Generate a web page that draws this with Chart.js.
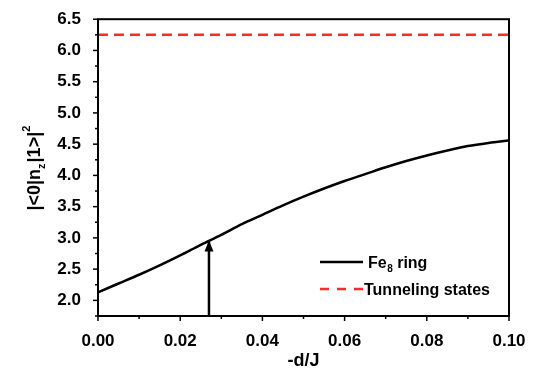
<!DOCTYPE html>
<html>
<head>
<meta charset="utf-8">
<script src="https://cdn.jsdelivr.net/npm/chart.js@4"></script>
<style>
  html, body { margin: 0; padding: 0; background: #fff; }
  #wrap { width: 544px; height: 372px; }
</style>
</head>
<body>
<div id="wrap"><canvas id="chart"></canvas></div>
<script>
// -d/J values and the matrix element for the Fe8 ring
const dJ = [0, 0.005, 0.01, 0.015, 0.02, 0.025, 0.03, 0.035, 0.04, 0.045, 0.05,
            0.055, 0.06, 0.065, 0.07, 0.075, 0.08, 0.085, 0.09, 0.095, 0.1];
const fe8Ring = [2.13, 2.27, 2.41, 2.56, 2.72, 2.89, 3.05, 3.22, 3.37, 3.52, 3.66,
                 3.79, 3.91, 4.02, 4.13, 4.23, 4.32, 4.40, 4.47, 4.52, 4.56];
// constant level of the tunneling states
const tunnelingLevel = 6.25;
// arrow from the axis up to the curve
const arrowAt = 0.027;
const arrowTop = 2.96;

const yMin = 1.75, yMax = 6.5;
const xMin = 0, xMax = 0.1;

const FONT = "'Liberation Sans', Arial, sans-serif";

// frame, outward ticks, arrow head, legend and y title
const decorations = {
  id: 'decorations',
  afterDatasetsDraw(chart) {
    const ctx = chart.ctx;
    const a = chart.chartArea;
    const xs = chart.scales.x, ys = chart.scales.y;
    ctx.save();

    // arrow head
    const meta = chart.getDatasetMeta(2);
    const tip = meta.data[1];
    ctx.fillStyle = '#000';
    ctx.beginPath();
    ctx.moveTo(tip.x, tip.y);
    ctx.lineTo(tip.x - 4.5, tip.y + 11);
    ctx.lineTo(tip.x + 4.5, tip.y + 11);
    ctx.closePath();
    ctx.fill();

    // frame
    ctx.strokeStyle = '#000';
    ctx.lineWidth = 2;
    ctx.strokeRect(a.left, a.top, a.right - a.left, a.bottom - a.top);

    // ticks
    ctx.lineWidth = 1.5;
    ys.ticks.forEach(t => {
      const y = ys.getPixelForValue(t.value);
      const major = Math.abs(t.value * 2 - Math.round(t.value * 2)) < 1e-6;
      ctx.beginPath();
      ctx.moveTo(a.left, y);
      ctx.lineTo(a.left - (major ? 5 : 3), y);
      ctx.stroke();
    });
    xs.ticks.forEach(t => {
      const x = xs.getPixelForValue(t.value);
      const major = Math.abs(t.value * 50 - Math.round(t.value * 50)) < 1e-6;
      ctx.beginPath();
      ctx.moveTo(x, a.bottom);
      ctx.lineTo(x, a.bottom + (major ? 5 : 3));
      ctx.stroke();
    });

    // legend
    const lx = 320, ly1 = 262, ly2 = 289;
    ctx.lineWidth = 2.5;
    ctx.beginPath();
    ctx.moveTo(lx, ly1);
    ctx.lineTo(lx + 43, ly1);
    ctx.stroke();
    ctx.strokeStyle = '#ff2a2a';
    ctx.setLineDash([9, 8]);
    ctx.beginPath();
    ctx.moveTo(lx, ly2);
    ctx.lineTo(lx + 43, ly2);
    ctx.stroke();
    ctx.setLineDash([]);

    ctx.fillStyle = '#000';
    ctx.textBaseline = 'alphabetic';
    ctx.textAlign = 'left';
    ctx.font = 'bold 16px ' + FONT;
    let tx = lx + 48;
    ctx.fillText('Fe', tx, ly1 + 6);
    tx += ctx.measureText('Fe').width;
    ctx.font = 'bold 10px ' + FONT;
    ctx.fillText('8', tx + 0.5, ly1 + 10);
    tx += ctx.measureText('8').width + 0.5;
    ctx.font = 'bold 16px ' + FONT;
    ctx.fillText(' ring', tx, ly1 + 6);
    ctx.fillText('Tunneling states', lx + 44, ly2 + 6);

    // y axis title with subscript and superscript
    ctx.translate(33, (a.top + a.bottom) / 2);
    ctx.rotate(-Math.PI / 2);
    const parts = [
      { s: '|<0|n', size: 18, dy: 0 },
      { s: 'z', size: 11, dy: 5 },
      { s: '|1>|', size: 18, dy: 0 },
      { s: '2', size: 11, dy: -10 }
    ];
    let total = 0;
    parts.forEach(p => {
      ctx.font = 'bold ' + p.size + 'px ' + FONT;
      p.w = ctx.measureText(p.s).width + (p.size < 18 ? 1 : 0);
      total += p.w;
    });
    let px = -total / 2;
    parts.forEach(p => {
      ctx.font = 'bold ' + p.size + 'px ' + FONT;
      ctx.fillText(p.s, px, 7 + p.dy);
      px += p.w;
    });

    ctx.restore();
  }
};

new Chart(document.getElementById('chart'), {
  type: 'line',
  data: {
    datasets: [
      {
        label: 'Fe8 ring',
        data: dJ.map((x, i) => ({ x: x, y: fe8Ring[i] })),
        borderColor: '#000',
        borderWidth: 2.5,
        pointRadius: 0,
        cubicInterpolationMode: 'monotone',
        order: 1
      },
      {
        label: 'Tunneling states',
        data: [{ x: xMin, y: tunnelingLevel }, { x: xMax, y: tunnelingLevel }],
        borderColor: '#ff2a2a',
        borderWidth: 2.5,
        borderDash: [10, 6],
        pointRadius: 0,
        order: 2
      },
      {
        label: 'arrow',
        data: [{ x: arrowAt, y: yMin }, { x: arrowAt, y: arrowTop }],
        borderColor: '#000',
        borderWidth: 2.5,
        pointRadius: 0,
        order: 3
      }
    ]
  },
  options: {
    responsive: true,
    maintainAspectRatio: false,
    animation: false,
    layout: { padding: { top: 12, right: 35, left: 0, bottom: 0 } },
    plugins: {
      legend: { display: false },
      tooltip: { enabled: false }
    },
    scales: {
      x: {
        type: 'linear',
        min: xMin,
        max: xMax,
        grid: { display: false },
        border: { display: false },
        ticks: {
          stepSize: 0.01,
          autoSkip: false,
          maxRotation: 0,
          padding: 7,
          color: '#000',
          font: { family: FONT, size: 17, weight: 'bold' },
          callback: v => Math.abs(v * 50 - Math.round(v * 50)) < 1e-6 ? v.toFixed(2) : ''
        },
        title: {
          display: true,
          text: '-d/J',
          color: '#000',
          padding: { top: 0, bottom: 0 },
          font: { family: FONT, size: 18, weight: 'bold' }
        },
        afterFit: s => { s.height = 56; }
      },
      y: {
        type: 'linear',
        min: yMin,
        max: yMax,
        grid: { display: false },
        border: { display: false },
        ticks: {
          stepSize: 0.25,
          autoSkip: false,
          padding: 9,
          color: '#000',
          font: { family: FONT, size: 17, weight: 'bold' },
          callback: v => Math.abs(v * 2 - Math.round(v * 2)) < 1e-6 ? v.toFixed(1) : ''
        },
        afterFit: s => { s.width = 98; }
      }
    }
  },
  plugins: [decorations]
});
</script>
</body>
</html>
